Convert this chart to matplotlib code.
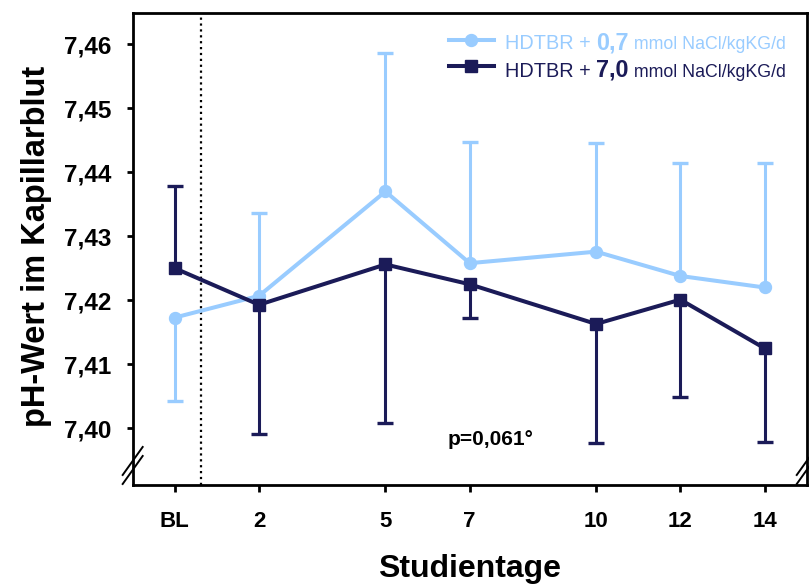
import numpy as np
import matplotlib
matplotlib.use('Agg')
import matplotlib.pyplot as plt
from matplotlib.offsetbox import TextArea, HPacker, AnchoredOffsetbox

plt.rcParams['font.family'] = ['Liberation Sans', 'DejaVu Sans']

# Studientage (BL = Baseline)
days = [0, 2, 5, 7, 10, 12, 14]
day_labels = ['BL', '2', '5', '7', '10', '12', '14']

# HDTBR + 0,7 mmol NaCl/kgKG/d
low_mean = [7.4173, 7.4207, 7.4370, 7.4258, 7.4276, 7.4238, 7.4220]
low_sd = [0.0130, 0.0129, 0.0216, 0.0189, 0.0170, 0.0177, 0.0194]
low_dir = [-1, 1, 1, 1, 1, 1, 1]      # Fehlerbalken nur nach oben/unten

# HDTBR + 7,0 mmol NaCl/kgKG/d
high_mean = [7.4250, 7.4193, 7.4256, 7.4225, 7.4163, 7.4201, 7.4125]
high_sd = [0.0129, 0.0202, 0.0248, 0.0053, 0.0186, 0.0152, 0.0146]
high_dir = [1, -1, -1, -1, -1, -1, -1]

y_ticks = [7.40, 7.41, 7.42, 7.43, 7.44, 7.45, 7.46]
y_labels = ['7,40', '7,41', '7,42', '7,43', '7,44', '7,45', '7,46']

light = '#99ccff'
dark = '#1b1b58'
hdt_start = 0.63   # gepunktete Linie nach Baseline

fig = plt.figure(figsize=(8.09, 5.87), dpi=100)
ax = fig.add_axes([0.164, 0.1738, 0.8332, 0.8035])


def draw_series(mean, sd, direction, color, marker, ms, z):
    x = np.array(days)
    m = np.array(mean)
    e = np.array(sd)
    d = np.array(direction)
    lower = np.where(d < 0, e, 0)
    upper = np.where(d > 0, e, 0)
    ax.errorbar(x, m, yerr=[lower, upper], fmt='none', ecolor=color,
                elinewidth=2.2, capsize=0, zorder=z)
    # Kappen nur am Ende des einseitigen Balkens
    ax.plot(x, m + d * e, ls='none', marker='_', ms=12, mew=2.4,
            color=color, zorder=z)
    line, = ax.plot(x, m, '-', marker=marker, color=color, lw=2.9,
                    ms=ms, zorder=z + 0.5)
    return line


l_low = draw_series(low_mean, low_sd, low_dir, light, 'o', 8.6, 3)
l_high = draw_series(high_mean, high_sd, high_dir, dark, 's', 8.0, 4)

ax.axvline(hdt_start, color='black', ls=':', lw=1.6, zorder=1)

ax.set_xlim(-1, 15)
ax.set_ylim(7.39114, 7.46484)
ax.set_xticks(days, day_labels, fontweight='bold', fontsize=16)
ax.set_yticks(y_ticks, y_labels, fontweight='bold', fontsize=17.5)
ax.tick_params(axis='x', length=5, width=2, pad=14)
ax.tick_params(axis='y', length=4.3, width=2, pad=11)
for s in ax.spines.values():
    s.set_linewidth(2)

ax.set_ylabel('pH-Wert im Kapillarblut', fontsize=23.5, fontweight='bold')
ax.yaxis.set_label_coords(-0.12, 0.505)
ax.set_xlabel('Studientage', fontsize=23, fontweight='bold')
ax.xaxis.set_label_coords(0.5, -0.147)

ax.text(0.531, 0.0954, 'p=0,061°', transform=ax.transAxes, ha='center',
        va='center', fontsize=15, fontweight='bold')

# Achsenbruch-Markierungen
px, py = 1 / 674, 1 / 471.7
for xs in (0, 1):
    for yc in (0.0318, 0.0509):
        ax.plot([xs - 10 * px, xs + 10 * px], [yc - 14 * py, yc + 14 * py],
                color='black', lw=1.4, transform=ax.transAxes, clip_on=False)

# Legende: Symbole von matplotlib, Text mit gemischter Formatierung
ax.legend([l_low, l_high], ['', ''], loc='upper left',
          bbox_to_anchor=(449 / 809, 0.9438), bbox_transform=fig.transFigure,
          frameon=False, fontsize=13, handlelength=2.49, handletextpad=0,
          borderpad=0, borderaxespad=0, labelspacing=0.52, numpoints=1)


def legend_text(dose, color):
    parts = [TextArea('HDTBR + ', textprops=dict(color=color, size=14.3)),
             TextArea(dose, textprops=dict(color=color, size=16.8,
                                           weight='bold')),
             TextArea(' mmol NaCl/kgKG/d', textprops=dict(color=color,
                                                         size=12.8))]
    return HPacker(children=parts, align='baseline', pad=0, sep=0)


for dose, color, yb in [('0,7', light, 0.908), ('7,0', dark, 0.861)]:
    box = AnchoredOffsetbox(loc='lower left', child=legend_text(dose, color),
                            bbox_to_anchor=(505 / 809, yb),
                            bbox_transform=fig.transFigure, frameon=False,
                            pad=0, borderpad=0)
    ax.add_artist(box)

fig.savefig('out.png', dpi=100)
